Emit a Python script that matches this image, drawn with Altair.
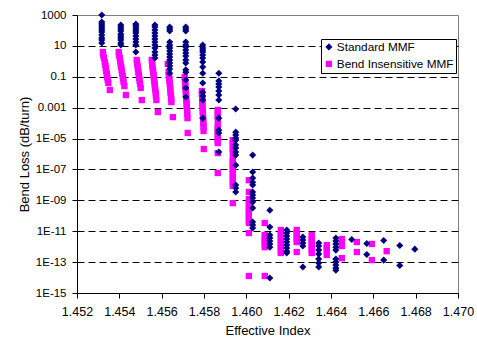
import math
import altair as alt
import pandas as pd

# ---------------- data ----------------
series_names = ["Standard MMF", "Bend Insensitive MMF"]
series_colors = ["#000080", "#FF00FF"]
series_shapes = ["diamond", "square"]
series_sizes = [50, 40]

# Standard MMF: one effective index per column, several bend-loss values per column
std_col_x = [1.45317, 1.45407, 1.45478, 1.45568, 1.45638, 1.45714, 1.45794, 1.45870,
             1.45950, 1.46030, 1.46111, 1.46191, 1.46267, 1.46342, 1.46423, 1.46498,
             1.46569, 1.46649, 1.46725, 1.46796]
std_col_loss = [
    [1000, 355, 263, 195, 145, 107, 79, 50, 32, 24, 15.5],
    [224, 166, 123, 91, 59, 44, 32, 24, 15.5, 11.5],
    [263, 224, 166, 123, 91, 68, 44, 28, 18, 11.5, 4.0],
    [224, 166, 107, 68, 44, 28, 18, 11.5, 7.2, 4.0, 2.6, 1.66],
    [166, 123, 91, 18, 11.5, 7.2, 4.7, 2.95, 1.9, 1.23, 0.78, 0.50, 0.32, 0.17],
    [166, 123, 91, 18, 11.5, 8.5, 5.4, 3.5, 2.2, 1.23, 0.78, 0.28, 0.20, 0.062, 0.019, 0.0049],
    [11.5, 7.2, 5.4, 4.0, 2.6, 1.66, 0.91, 0.43, 0.17, 0.040, 0.010, 0.0056, 0.0031, 2.1e-4],
    [0.17, 0.054, 0.034, 0.022, 0.012, 0.0066, 0.0031, 2.1e-4, 3.5e-5, 2.3e-5, 1.35e-6],
    [8.1e-4, 2.6e-5, 1.7e-5, 1.07e-5, 7.9e-6, 3.8e-6, 2.45e-6, 1.35e-6, 8.5e-7, 1.9e-7,
     9.8e-9, 6.3e-9, 3.5e-9],
    [8.5e-7, 6.8e-8, 2.75e-8, 1.5e-8, 9.8e-9, 3.5e-9, 2.2e-9, 1.4e-9, 7.8e-10, 3.2e-10,
     3.9e-11, 2.5e-11, 1.6e-11],
    [2.3e-10, 1.9e-11, 5.6e-12, 3.6e-12, 2.3e-12, 1.5e-12, 9.3e-13, 9.3e-15],
    [1.2e-11, 7.6e-12, 4.9e-12, 3.1e-12, 2.0e-12, 1.26e-12, 8.1e-13, 5.1e-13, 3.9e-13],
    [4.2e-12, 2.7e-12, 1.7e-12, 1.1e-12, 4.8e-14],
    [1.7e-12, 1.1e-12, 6.0e-13, 3.3e-13, 1.6e-13, 8.7e-14, 4.8e-14],
    [3.6e-12, 2.3e-12, 1.5e-12, 9.3e-13, 6.0e-13, 1.6e-13, 1.0e-13, 6.5e-14, 4.1e-14, 3.0e-14],
    [2.9e-12],
    [1.6e-12, 3.1e-13],
    [2.5e-12, 1.35e-13],
    [1.2e-12, 6.0e-14],
    [6.9e-13],
]

# Bend Insensitive MMF: the first columns are slanted, so their x is given per point
bi_col_x = [
    [1.45322, 1.45324, 1.45327, 1.45331, 1.45334, 1.45336, 1.45338, 1.45341, 1.45343,
     1.45345, 1.45348, 1.45355],
    [1.45397, 1.45399, 1.45402, 1.45404, 1.45406, 1.45409, 1.45411, 1.45413, 1.45416,
     1.45418, 1.45420, 1.45424, 1.45431],
    [1.45482, 1.45484, 1.45486, 1.45488, 1.45490, 1.45492, 1.45494, 1.45496, 1.45498,
     1.45501, 1.45506],
    [1.45553, 1.45555, 1.45556, 1.45558, 1.45560, 1.45562, 1.45563, 1.45565, 1.45567,
     1.45568, 1.45570, 1.45572, 1.45573, 1.45575, 1.45582],
    [1.45629, 1.45633, 1.45634, 1.45636, 1.45637, 1.45638, 1.45640, 1.45641, 1.45642,
     1.45644, 1.45645, 1.45646, 1.45653],
    [1.45709, 1.45710, 1.45711, 1.45712, 1.45713, 1.45714, 1.45715, 1.45716, 1.45717,
     1.45718, 1.45719, 1.45720, 1.45721, 1.45722, 1.45723],
    [1.45790, 1.45790, 1.45791, 1.45792, 1.45792, 1.45793, 1.45794, 1.45794, 1.45795,
     1.45796, 1.45796, 1.45797, 1.45798, 1.45798, 1.45799],
    1.45865, 1.45936, 1.46012, 1.46087, 1.46163, 1.46238, 1.46309, 1.46380, 1.46451,
    1.46522, 1.46593, 1.46663,
]
bi_col_loss = [
    [4.0, 2.6, 1.66, 0.91, 0.58, 0.37, 0.23, 0.15, 0.095, 0.062, 0.040, 0.014],
    [4.0, 2.6, 1.66, 1.05, 0.68, 0.43, 0.28, 0.17, 0.11, 0.071, 0.046, 0.025, 0.0066],
    [1.23, 0.78, 0.50, 0.32, 0.20, 0.13, 0.083, 0.054, 0.034, 0.019, 0.0031],
    [1.23, 0.78, 0.50, 0.32, 0.20, 0.13, 0.083, 0.054, 0.034, 0.022, 0.014, 0.0089,
     0.0056, 0.0031, 5.2e-4],
    [0.68, 0.20, 0.13, 0.083, 0.054, 0.034, 0.022, 0.014, 0.0089, 0.0056, 0.0036,
     0.0023, 2.45e-4],
    [0.095, 0.062, 0.040, 0.025, 0.016, 0.010, 0.0066, 0.0042, 0.0027, 0.0017, 0.0011,
     7.1e-4, 3.9e-4, 2.1e-4, 2.3e-5],
    [0.012, 0.0076, 0.0049, 0.0031, 0.0020, 0.0013, 8.1e-4, 5.2e-4, 3.3e-4, 2.1e-4,
     1.35e-4, 8.7e-5, 5.6e-5, 3.1e-5, 2.1e-6],
    [7.1e-4, 4.5e-4, 2.9e-4, 1.8e-4, 7.6e-5, 4.8e-5, 3.1e-5, 1.95e-5, 1.26e-5, 7.9e-6,
     5.1e-6, 1.15e-6, 5.9e-8],
    [7.9e-6, 5.1e-6, 3.3e-6, 2.1e-6, 1.35e-6, 5.5e-7, 3.5e-7, 2.2e-7, 1.45e-7, 9.1e-8,
     5.9e-8, 3.7e-8, 2.4e-8, 1.5e-8, 8.5e-9, 6.6e-10],
    [2.0e-8, 3.5e-9, 1.2e-9, 7.8e-10, 4.9e-10, 3.2e-10, 2.0e-10, 1.3e-10, 8.3e-11,
     5.2e-11, 3.4e-11, 7.6e-12, 1.26e-14],
    [3.4e-11, 5.6e-12, 3.6e-12, 2.3e-12, 1.5e-12, 9.3e-13, 1.26e-14],
    [1.2e-11, 7.6e-12, 4.9e-12, 3.1e-12, 2.0e-12, 1.26e-12, 8.1e-13, 5.1e-13, 3.9e-13],
    [1.2e-11, 7.6e-12, 4.9e-12, 3.1e-12, 2.0e-12, 4.5e-13],
    [5.6e-12, 3.6e-12, 2.3e-12, 1.5e-12, 9.3e-13, 6.0e-13, 3.9e-13],
    [1.26e-12, 8.1e-13, 5.1e-13, 2.9e-13],
    [3.1e-12, 2.0e-12, 1.1e-12, 1.8e-13],
    [2.0e-12, 4.5e-13],
    [1.5e-12, 1.35e-13],
    [5.1e-13],
]

x_tick_values = [1.452, 1.454, 1.456, 1.458, 1.460, 1.462, 1.464, 1.466, 1.468, 1.470]
y_tick_values = [1e3, 1e1, 1e-1, 1e-3, 1e-5, 1e-7, 1e-9, 1e-11, 1e-13, 1e-15]
y_tick_labels = ["1000", "10", "0.1", "0.001", "1E-05", "1E-07", "1E-09", "1E-11",
                 "1E-13", "1E-15"]

# ---------------- build table ----------------
rows = []
# magenta first so the blue diamonds are drawn on top
for xs, losses in zip(bi_col_x, bi_col_loss):
    if not isinstance(xs, list):
        xs = [xs] * len(losses)
    for xv, lv in zip(xs, losses):
        rows.append({"x": xv, "loss": lv, "series": series_names[1]})
for xv, losses in zip(std_col_x, std_col_loss):
    for lv in losses:
        rows.append({"x": xv, "loss": lv, "series": series_names[0]})
df = pd.DataFrame(rows)

label_expr = ""
for v, lab in zip(y_tick_values, y_tick_labels):
    e = round(math.log10(v))
    label_expr += f"round(log(datum.value)/LN10) == {e} ? '{lab}' : "
label_expr += "''"

FONT = "Liberation Sans"

legend = alt.Legend(title=None, orient="none", legendX=244, legendY=24,
                    strokeColor="black", fillColor="white",
                    padding=2, rowPadding=4, labelOffset=2,
                    labelFont=FONT, labelFontSize=11.8,
                    labelColor="black", symbolSize=30,
                    symbolStrokeWidth=0)

chart = alt.Chart(df).mark_point(filled=True, opacity=1, strokeWidth=0).encode(
    x=alt.X("x:Q",
            scale=alt.Scale(domain=[1.452, 1.470], nice=False, zero=False),
            axis=alt.Axis(values=x_tick_values, format=".3f", grid=False,
                          title="Effective Index", titleFont=FONT, titleFontSize=13,
                          titleFontWeight="normal", titleColor="black",
                          titleY=41, titleBaseline="alphabetic",
                          labelFont=FONT, labelFontSize=12.5, labelColor="black",
                          labelPadding=7, tickSize=5, tickColor="black",
                          domainColor="black", labelFlush=False, labelOverlap=False)),
    y=alt.Y("loss:Q",
            scale=alt.Scale(type="log", domain=[1e-15, 1e3], nice=False),
            axis=alt.Axis(values=y_tick_values, labelExpr=label_expr,
                          grid=True,
                          gridColor={"condition": {"test": "datum.value >= 999",
                                                   "value": "#808080"},
                                     "value": "black"},
                          gridDash=[7, 4], gridWidth=1,
                          title="Bend Loss (dB/turn)", titleFont=FONT, titleFontSize=13,
                          titleFontWeight="normal", titleColor="black",
                          titleX=-53, titleY=139, titleAngle=-90, titleAlign="center",
                          titleBaseline="middle",
                          labelFont=FONT, labelFontSize=11.5, labelColor="black",
                          labelPadding=6, tickSize=5, tickColor="black",
                          domainColor="black", labelFlush=False, labelOverlap=False)),
    color=alt.Color("series:N",
                    scale=alt.Scale(domain=series_names, range=series_colors),
                    legend=legend),
    shape=alt.Shape("series:N",
                    scale=alt.Scale(domain=series_names, range=series_shapes),
                    legend=legend),
    size=alt.Size("series:N",
                  scale=alt.Scale(domain=series_names, range=series_sizes),
                  legend=None),
).properties(
    width=381, height=278,
    autosize=alt.AutoSizeParams(type="none"),
    padding={"left": 77, "top": 15, "right": 19, "bottom": 46},
).configure_view(stroke="#808080", strokeWidth=1)

chart.save("out.html", embed_options={"renderer": "svg", "actions": False})
